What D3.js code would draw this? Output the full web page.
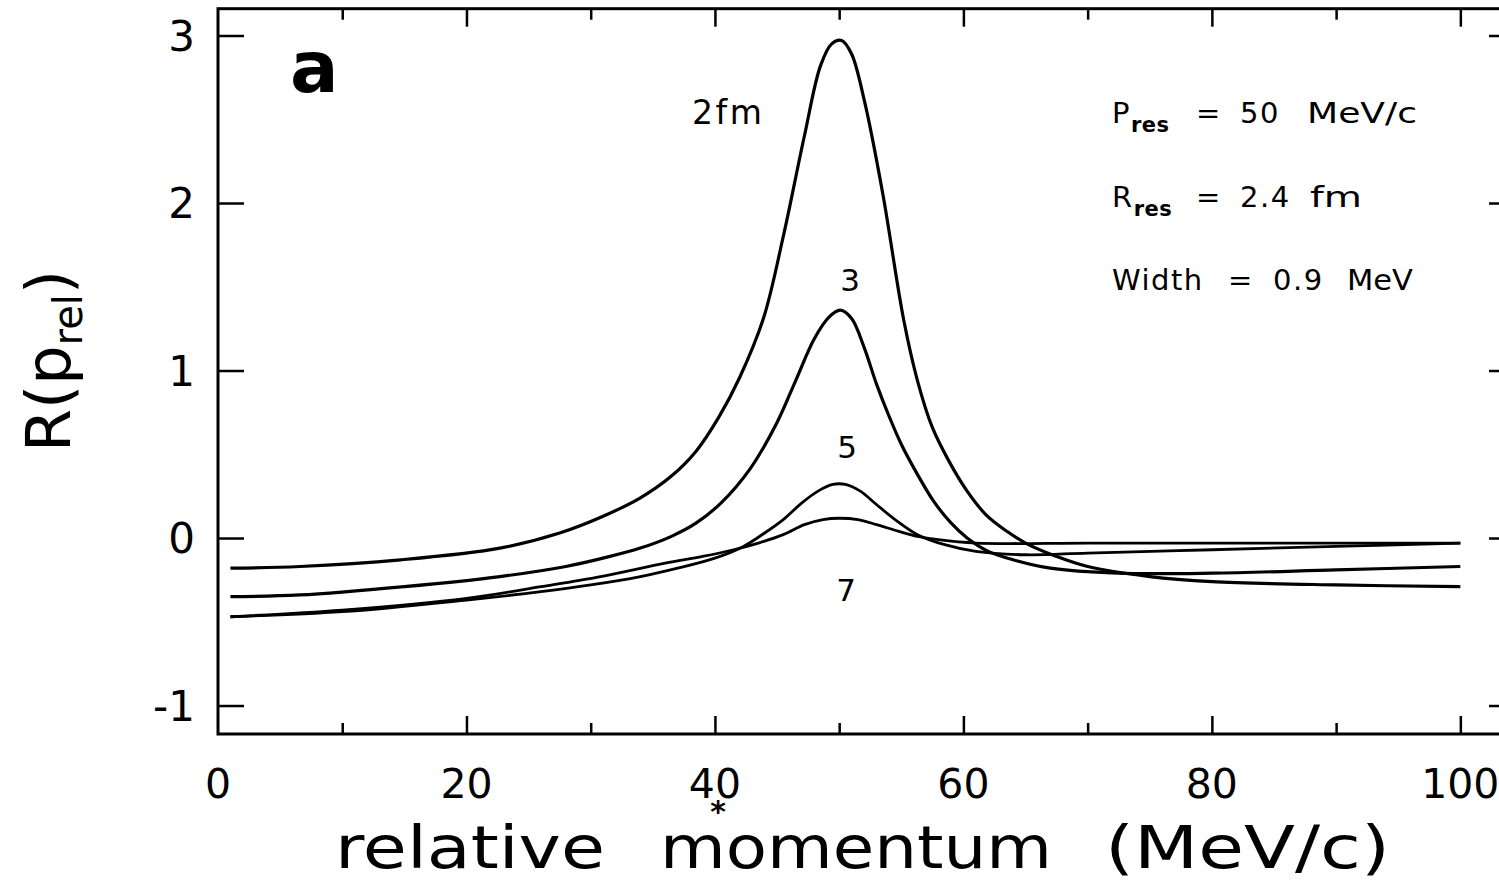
<!DOCTYPE html>
<html>
<head>
<meta charset="utf-8">
<script src="https://cdn.jsdelivr.net/npm/d3@7"></script>
<style>
  body { margin: 0; background: #fff; }
  svg { display: block; }
  text { font-family: "DejaVu Sans", sans-serif; fill: #000; }
</style>
</head>
<body>
<script>
// ticks
const xTickLabels = [0, 20, 40, 60, 80, 100];
const xMinorTicks = [10, 30, 50, 70, 90];
const yTickLabels = [-1, 0, 1, 2, 3];

// curves: [p_rel (MeV/c), R]
const curve2fm = [[1,-0.18],[6.6,-0.17],[14.7,-0.13],[22.7,-0.06],[27.5,0.03],[31,0.13],[34,0.24],[36.5,0.37],[38.5,0.52],[40.3,0.72],[42,0.96],[43.9,1.31],[45.5,1.80],[47.2,2.40],[48.5,2.82],[49.4,2.95],[50.2,2.97],[51,2.89],[52,2.62],[53.5,2.06],[55.2,1.30],[56.3,0.94],[57.5,0.66],[58.9,0.45],[60.3,0.28],[61.8,0.14],[63.5,0.04],[65,-0.03],[67.5,-0.11],[70,-0.17],[75,-0.23],[80,-0.26],[90,-0.28],[100,-0.29]];
const curve3fm = [[1,-0.35],[6.6,-0.34],[15,-0.29],[22.7,-0.23],[28,-0.17],[31,-0.12],[34,-0.06],[36.5,0.01],[38.5,0.09],[40.5,0.21],[42.8,0.41],[45,0.69],[46.5,0.94],[48,1.19],[49.2,1.32],[50.1,1.36],[51,1.31],[52,1.14],[53,0.92],[54,0.73],[55,0.56],[56.3,0.38],[57.6,0.22],[59,0.09],[60.3,0.0],[62,-0.08],[64,-0.13],[67,-0.18],[72.4,-0.21],[80,-0.21],[90,-0.19],[100,-0.17]];
const curve5fm = [[1,-0.47],[10,-0.44],[20,-0.37],[26,-0.32],[30,-0.28],[34,-0.23],[37,-0.18],[40,-0.12],[42.3,-0.05],[44,0.03],[45.5,0.11],[47,0.21],[48.3,0.28],[49.5,0.32],[50.5,0.32],[51.7,0.28],[53,0.20],[54.5,0.11],[56.3,0.02],[58.5,-0.04],[61,-0.08],[65,-0.10],[70,-0.09],[80,-0.07],[90,-0.05],[100,-0.03]];
const curve7fm = [[1,-0.47],[10,-0.43],[20,-0.36],[26,-0.29],[30.8,-0.23],[36,-0.15],[39,-0.11],[41.5,-0.07],[43.5,-0.03],[45.5,0.02],[47.2,0.08],[48.7,0.11],[50,0.118],[51.5,0.11],[53,0.08],[54.8,0.04],[56.3,0.01],[58,-0.01],[61,-0.03],[70,-0.03],[80,-0.03],[100,-0.03]];

const W = 1499, H = 883;
const svg = d3.select('body').append('svg').attr('width', W).attr('height', H);

const x = d3.scaleLinear().domain([0, 104.4]).range([218, 1515]);
const y = d3.scaleLinear().domain([-1.17, 3.16]).range([734, 8.7]);

// frame
svg.append('rect')
  .attr('x', x(0)).attr('y', y(3.16))
  .attr('width', x(104.4) - x(0)).attr('height', y(-1.17) - y(3.16))
  .attr('fill', 'none').attr('stroke', '#000').attr('stroke-width', 3);

// x ticks, bottom and top, pointing inward
const xAxisB = d3.axisBottom(x).tickValues(xTickLabels.slice(1)).tickSize(-18).tickFormat('');
const xAxisBm = d3.axisBottom(x).tickValues(xMinorTicks).tickSize(-11).tickFormat('');
const xAxisT = d3.axisTop(x).tickValues(xTickLabels.slice(1)).tickSize(-18).tickFormat('');
const xAxisTm = d3.axisTop(x).tickValues(xMinorTicks).tickSize(-11).tickFormat('');
[[xAxisB, y(-1.17)], [xAxisBm, y(-1.17)], [xAxisT, y(3.16)], [xAxisTm, y(3.16)]].forEach(([ax, ty]) => {
  const g = svg.append('g').attr('transform', 'translate(0,' + ty + ')').call(ax);
  g.select('.domain').remove();
  g.selectAll('line').attr('stroke', '#000').attr('stroke-width', 2.5);
});

// y ticks left and right
const yAxisL = d3.axisLeft(y).tickValues(yTickLabels).tickSize(-26).tickFormat('');
const yAxisR = d3.axisRight(y).tickValues(yTickLabels).tickSize(-26).tickFormat('');
[[yAxisL, x(0)], [yAxisR, x(104.4)]].forEach(([ax, tx]) => {
  const g = svg.append('g').attr('transform', 'translate(' + tx + ',0)').call(ax);
  g.select('.domain').remove();
  g.selectAll('line').attr('stroke', '#000').attr('stroke-width', 2.5);
});

// tick labels
svg.append('g').selectAll('text').data(xTickLabels).enter().append('text')
  .attr('x', d => x(d)).attr('y', 798)
  .attr('text-anchor', 'middle').attr('font-size', 41)
  .text(d => d);
svg.append('g').selectAll('text').data(yTickLabels).enter().append('text')
  .attr('x', 195).attr('y', d => y(d) + 15)
  .attr('text-anchor', 'end').attr('font-size', 42)
  .text(d => d);

// stray mark from the scan under "40"
svg.append('text').attr('x', 718).attr('y', 822).attr('text-anchor', 'middle')
  .attr('font-size', 30).attr('font-weight', 'bold').text('*');

// axis titles (x title word by word, plotter-style spacing)
const xt = svg.append('text').attr('y', 868).attr('font-size', 58);
xt.append('tspan').attr('x', 335).attr('textLength', 270).attr('lengthAdjust', 'spacingAndGlyphs').text('relative');
xt.append('tspan').attr('x', 660).attr('textLength', 392).attr('lengthAdjust', 'spacingAndGlyphs').text('momentum');
xt.append('tspan').attr('x', 1105).attr('textLength', 285).attr('lengthAdjust', 'spacingAndGlyphs').text('(MeV/c)');

const yt = svg.append('text').attr('transform', 'translate(70,452) rotate(-90)')
  .attr('font-size', 62);
yt.append('tspan').text('R(p');
yt.append('tspan').attr('font-size', 40).attr('dy', 12).text('rel');
yt.append('tspan').attr('dy', -12).text(')');

// curves
const line = d3.line().x(d => x(d[0])).y(d => y(d[1])).curve(d3.curveCatmullRom.alpha(0.5));
[curve2fm, curve3fm, curve5fm, curve7fm].forEach((c, i) => {
  svg.append('path').datum(c).attr('d', line)
    .attr('fill', 'none').attr('stroke', '#000').attr('stroke-width', i < 2 ? 3.2 : 2.8)
    .attr('stroke-linejoin', 'round');
});

// panel letter and curve labels
svg.append('text').attr('x', 290).attr('y', 92).attr('font-size', 72).attr('font-weight', 'bold').text('a');
svg.append('text').attr('x', 692).attr('y', 124).attr('font-size', 33).attr('textLength', 70).text('2fm');
svg.append('text').attr('x', 850).attr('y', 291).attr('text-anchor', 'middle').attr('font-size', 31).text('3');
svg.append('text').attr('x', 847).attr('y', 458).attr('text-anchor', 'middle').attr('font-size', 31).text('5');
svg.append('text').attr('x', 846).attr('y', 601).attr('text-anchor', 'middle').attr('font-size', 31).text('7');

// parameter box
function paramRow(base, head, sub, eqX, numX, num, unitX, unit, unitLen) {
  const t = svg.append('text').attr('x', 1112).attr('y', base).attr('font-size', 29)
    .attr('letter-spacing', 1.5);
  t.append('tspan').text(head);
  if (sub) t.append('tspan').attr('font-size', 21).attr('font-weight', 'bold').attr('dy', 9).attr('letter-spacing', 0.5).text(sub);
  t.append('tspan').attr('x', eqX).attr('y', base).text('=');
  t.append('tspan').attr('x', numX).attr('y', base).text(num);
  svg.append('text').attr('x', unitX).attr('y', base).attr('font-size', 29)
    .attr('textLength', unitLen).attr('lengthAdjust', 'spacingAndGlyphs').text(unit);
}
paramRow(123, 'P', 'res', 1196, 1240, '50', 1307, 'MeV/c', 110);
paramRow(207, 'R', 'res', 1196, 1240, '2.4', 1310, 'fm', 52);
paramRow(290, 'Width', null, 1228, 1273, '0.9', 1347, 'MeV', 66);
</script>
</body>
</html>
